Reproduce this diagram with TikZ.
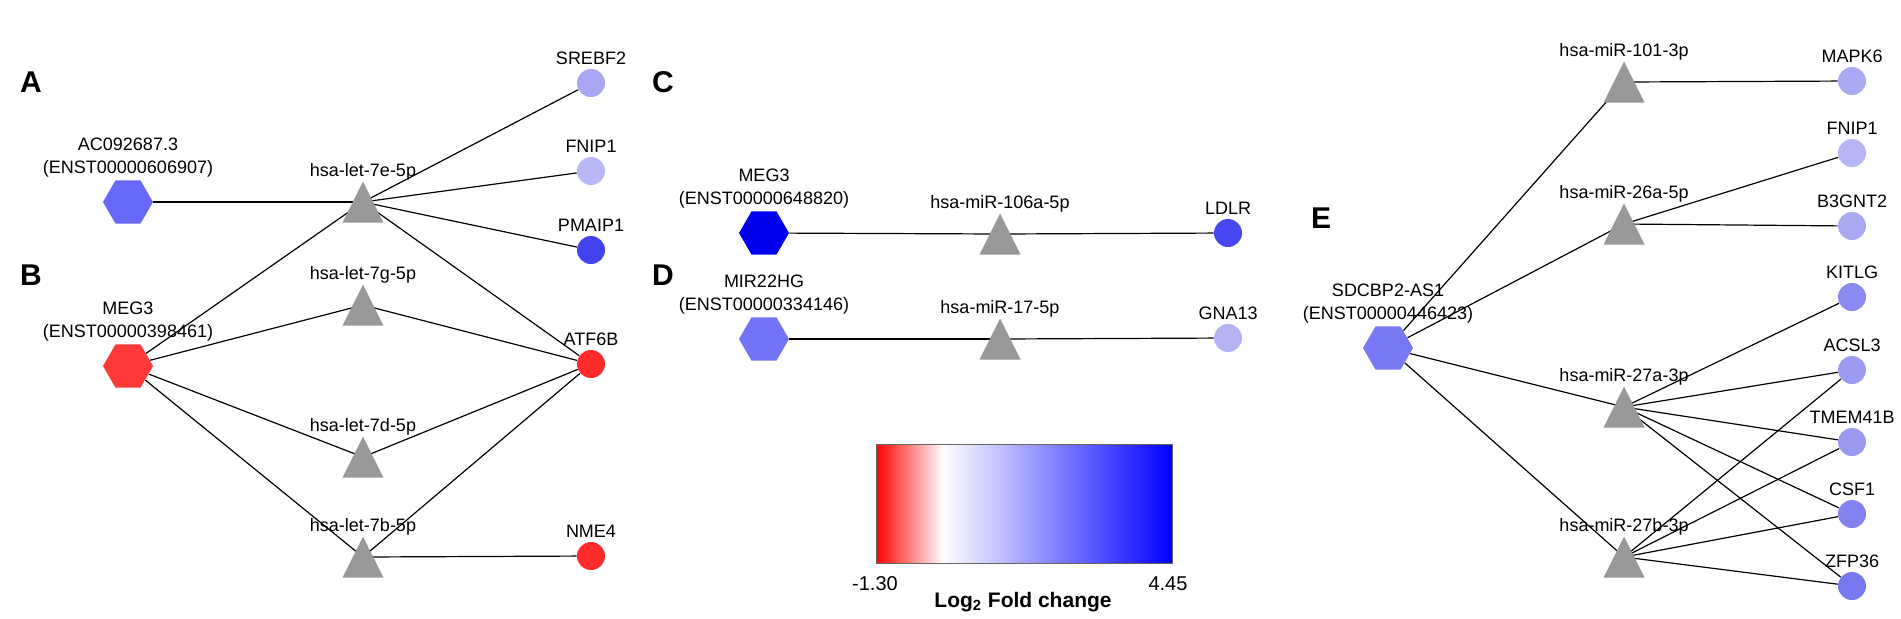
\documentclass[tikz,border=0pt]{standalone}
\usepackage{fontspec}
\setmainfont{Liberation Sans}
\usetikzlibrary{shapes.geometric}
\pgfdeclarelayer{bg}
\pgfsetlayers{bg,main}
\definecolor{trigray}{HTML}{999999}
\definecolor{cAC}{HTML}{6868F8}
\definecolor{cMEGb}{HTML}{FF3838}
\definecolor{cRed}{HTML}{FF2A2A}
\definecolor{cSREBF}{HTML}{A6A6F2}
\definecolor{cFNIPa}{HTML}{B8B8F6}
\definecolor{cPMAIP}{HTML}{4343EE}
\definecolor{cMEGc}{HTML}{0000EE}
\definecolor{cLDLR}{HTML}{4646F2}
\definecolor{cMIR}{HTML}{7373F5}
\definecolor{cGNA}{HTML}{B4B4F4}
\definecolor{cSD}{HTML}{7878F5}
\definecolor{cMAPK}{HTML}{AAAAF2}
\definecolor{cFNIPe}{HTML}{B6B6F5}
\definecolor{cB3}{HTML}{A9A9F2}
\definecolor{cKIT}{HTML}{8A8AF0}
\definecolor{cACSL}{HTML}{9C9CF2}
\definecolor{cTMEM}{HTML}{9A9AF1}
\definecolor{cCSF}{HTML}{8282F0}
\definecolor{cZFP}{HTML}{7878EE}
\tikzset{
  hexnode/.style={regular polygon, regular polygon sides=6, minimum size=25pt, inner sep=0pt, draw=none},
  genenode/.style={circle, minimum size=14pt, inner sep=0pt, draw=none},
  lbl/.style={anchor=base, font=\fontsize{9}{10}\selectfont, inner sep=0pt},
  panel/.style={anchor=base, font=\fontsize{15}{17}\selectfont\bfseries, inner sep=0pt},
  edge/.style={line width=0.6pt, black},
  barlbl/.style={anchor=base, font=\fontsize{10}{12}\selectfont, inner sep=0pt},
}
% lncRNA: name, x, y, colour, line1, line2
\newcommand\lncnode[6]{%
  \node[hexnode, fill=#4] (#1) at (#2,#3) {};
  \node[lbl] (#1la) at (#2,#3-52) {#5};
  \node[lbl] (#1lb) at (#2,#3-29) {#6};}
% miRNA: name, x, y, label
\newcommand\mirnode[4]{%
  \coordinate (#1) at (#2,#3);
  \fill[trigray] (#2-20.5,#3+20.5) -- (#2+20.5,#3+20.5) -- (#2,#3-20.5) -- cycle;
  \node[lbl] (#1l) at (#2,#3-25.5) {#4};}
% gene: name, x, y, colour, label
\newcommand\genenode[5]{%
  \node[genenode, fill=#4] (#1) at (#2,#3) {};
  \node[lbl] (#1l) at (#2,#3-18.5) {#5};}
\begin{document}
\begin{tikzpicture}[x=0.5pt, y=-0.5pt]
\useasboundingbox (0,0) rectangle (1901,618);
% panel letters
\node[panel] (pA) at (31,92) {A};
\node[panel] (pB) at (31,285) {B};
\node[panel] (pC) at (663,92) {C};
\node[panel] (pD) at (663,285) {D};
\node[panel] (pE) at (1321,228) {E};
% ---- A / B ----
\lncnode{ac}{128}{202}{cAC}{AC092687.3}{(ENST00000606907)}
\lncnode{megb}{128}{366}{cMEGb}{MEG3}{(ENST00000398461)}
\mirnode{t7e}{363}{202}{hsa-let-7e-5p}
\mirnode{t7g}{363}{305}{hsa-let-7g-5p}
\mirnode{t7d}{363}{457}{hsa-let-7d-5p}
\mirnode{t7b}{363}{557}{hsa-let-7b-5p}
\genenode{srebf}{591}{83}{cSREBF}{SREBF2}
\genenode{fnipa}{591}{171}{cFNIPa}{FNIP1}
\genenode{pmaip}{591}{250}{cPMAIP}{PMAIP1}
\genenode{atf}{591}{364}{cRed}{ATF6B}
\genenode{nme}{591}{556}{cRed}{NME4}
% ---- C / D ----
\lncnode{megc}{764}{233}{cMEGc}{MEG3}{(ENST00000648820)}
\mirnode{t106}{1000}{234}{hsa-miR-106a-5p}
\genenode{ldlr}{1228}{233}{cLDLR}{LDLR}
\lncnode{mir22}{764}{339}{cMIR}{MIR22HG}{(ENST00000334146)}
\mirnode{t17}{1000}{339}{hsa-miR-17-5p}
\genenode{gna}{1228}{338}{cGNA}{GNA13}
% ---- E ----
\lncnode{sd}{1388}{348}{cSD}{SDCBP2-AS1}{(ENST00000446423)}
\mirnode{t101}{1624}{82}{hsa-miR-101-3p}
\mirnode{t26}{1624}{224}{hsa-miR-26a-5p}
\mirnode{t27a}{1624}{407}{hsa-miR-27a-3p}
\mirnode{t27b}{1624}{557}{hsa-miR-27b-3p}
\genenode{mapk}{1852}{81}{cMAPK}{MAPK6}
\genenode{fnipe}{1852}{153}{cFNIPe}{FNIP1}
\genenode{bgnt}{1852}{226}{cB3}{B3GNT2}
\genenode{kit}{1852}{297}{cKIT}{KITLG}
\genenode{acsl}{1852}{370}{cACSL}{ACSL3}
\genenode{tmem}{1852}{442}{cTMEM}{TMEM41B}
\genenode{csf}{1852}{514}{cCSF}{CSF1}
\genenode{zfp}{1852}{586}{cZFP}{ZFP36}
% ---- edges ----
\begin{pgfonlayer}{bg}
\fill[white] (0,0) rectangle (1901,618);
\draw[edge] (ac) -- (t7e);
\draw[edge] (t7e) -- (srebf);
\draw[edge] (t7e) -- (fnipa);
\draw[edge] (t7e) -- (pmaip);
\draw[edge] (t7e) -- (atf);
\draw[edge] (megb) -- (t7e);
\draw[edge] (megb) -- (t7g);
\draw[edge] (megb) -- (t7d);
\draw[edge] (megb) -- (t7b);
\draw[edge] (t7g) -- (atf);
\draw[edge] (t7d) -- (atf);
\draw[edge] (t7b) -- (atf);
\draw[edge] (t7b) -- (nme);
\draw[edge] (megc) -- (t106);
\draw[edge] (t106) -- (ldlr);
\draw[edge] (mir22) -- (t17);
\draw[edge] (t17) -- (gna);
\draw[edge] (sd) -- (t101);
\draw[edge] (sd) -- (t26);
\draw[edge] (sd) -- (t27a);
\draw[edge] (sd) -- (t27b);
\draw[edge] (t101) -- (mapk);
\draw[edge] (t26) -- (fnipe);
\draw[edge] (t26) -- (bgnt);
\draw[edge] (t27a) -- (kit);
\draw[edge] (t27a) -- (acsl);
\draw[edge] (t27a) -- (tmem);
\draw[edge] (t27a) -- (csf);
\draw[edge] (t27a) -- (zfp);
\draw[edge] (t27b) -- (acsl);
\draw[edge] (t27b) -- (tmem);
\draw[edge] (t27b) -- (csf);
\draw[edge] (t27b) -- (zfp);
\end{pgfonlayer}
% ---- colour bar ----
\shade[left color=red, right color=white] (876,444) rectangle (943,563);
\shade[left color=white, right color=blue] (943,444) rectangle (1172,563);
\draw[line width=0.5pt, black!60] (876,444) rectangle (1172,563);
\node[barlbl] (vmin) at (875,590) {-1.30};
\node[barlbl] (vmax) at (1168,590) {4.45};
\node[barlbl, font=\fontsize{10.5}{12}\selectfont\bfseries] (title) at (1023,607) {Log\textsubscript{2} Fold change};
\end{tikzpicture}
\end{document}
